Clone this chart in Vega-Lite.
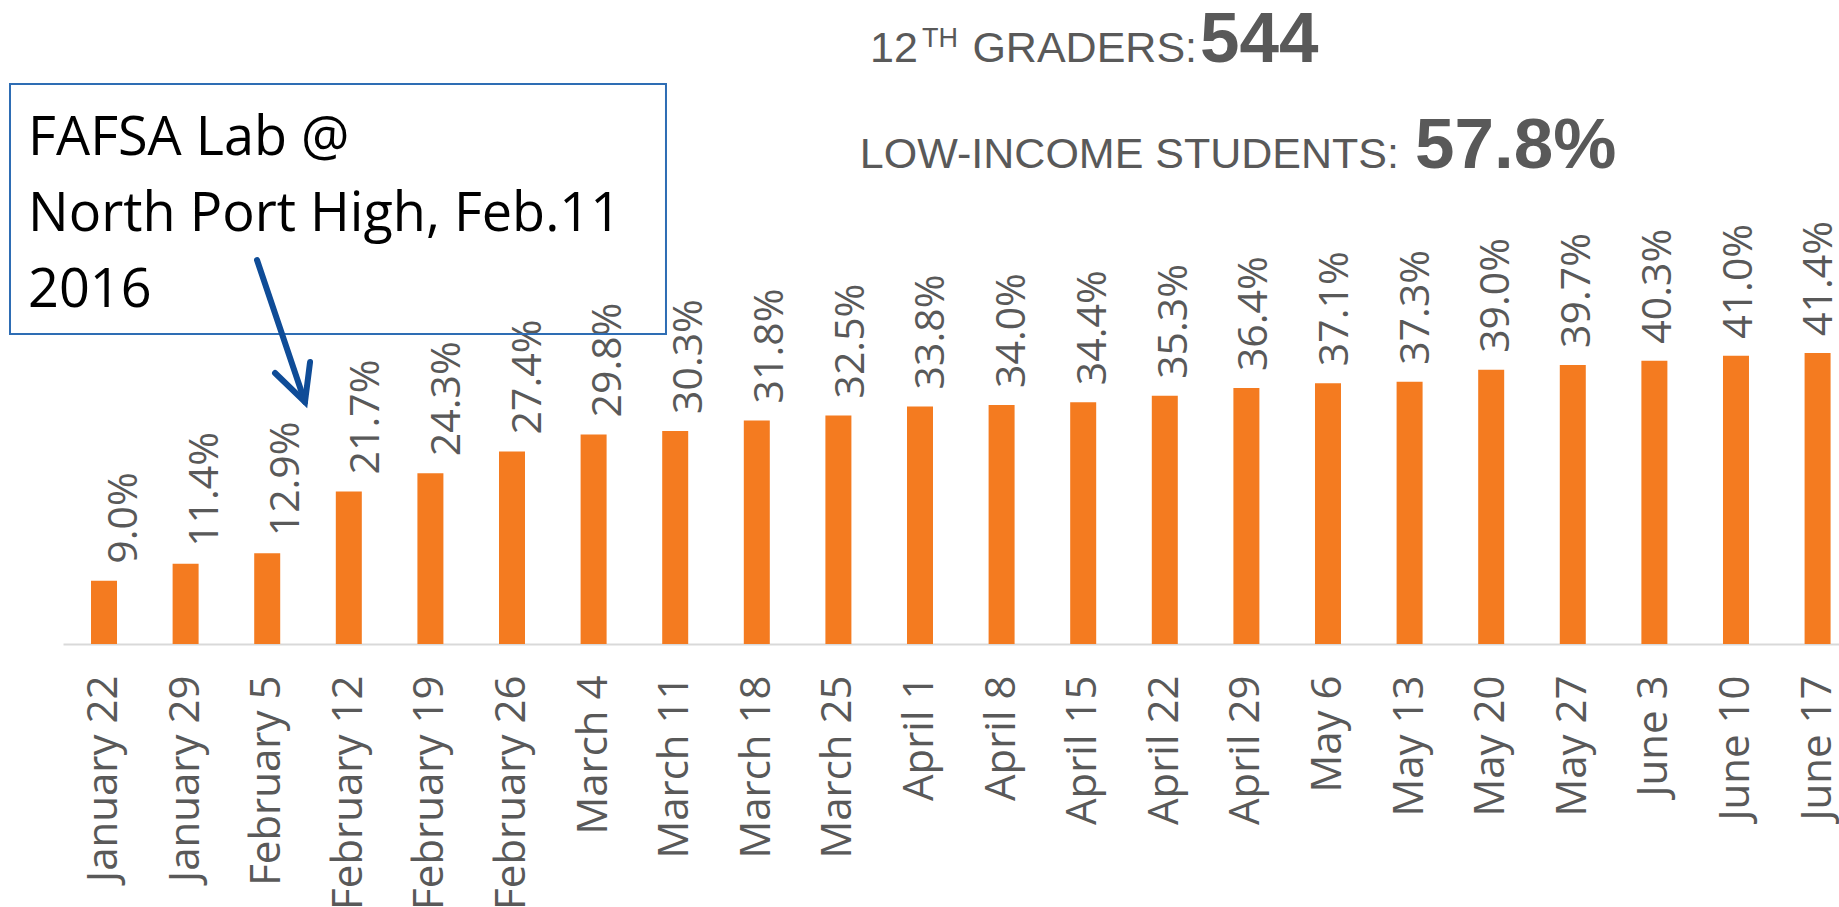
{
  "$schema": "https://vega.github.io/schema/vega-lite/v6.json",
  "width": 1776,
  "height": 351.5,
  "autosize": {"type": "none"},
  "padding": {"left": 63, "top": 292.5, "right": 0, "bottom": 263},
  "background": "white",
  "config": {"view": {"stroke": null}, "font": "Open Sans"},
  "datasets": {
    "bars": [
      {"week": "January 22", "share": 0.090},
      {"week": "January 29", "share": 0.114},
      {"week": "February 5", "share": 0.129},
      {"week": "February 12", "share": 0.217},
      {"week": "February 19", "share": 0.243},
      {"week": "February 26", "share": 0.274},
      {"week": "March 4", "share": 0.298},
      {"week": "March 11", "share": 0.303},
      {"week": "March 18", "share": 0.318},
      {"week": "March 25", "share": 0.325},
      {"week": "April 1", "share": 0.338},
      {"week": "April 8", "share": 0.340},
      {"week": "April 15", "share": 0.344},
      {"week": "April 22", "share": 0.353},
      {"week": "April 29", "share": 0.364},
      {"week": "May 6", "share": 0.371},
      {"week": "May 13", "share": 0.373},
      {"week": "May 20", "share": 0.390},
      {"week": "May 27", "share": 0.397},
      {"week": "June 3", "share": 0.403},
      {"week": "June 10", "share": 0.410},
      {"week": "June 17", "share": 0.414}
    ],
    "frame": [{"x1": -1.152, "x2": 6.887, "y1": 0.7966, "y2": 0.4410}],
    "note": [
      {"line": "FAFSA Lab @", "x": -0.93, "y": 0.6956},
      {"line": "North Port High, Feb.11", "x": -0.93, "y": 0.5875},
      {"line": "2016", "x": -0.93, "y": 0.4794}
    ],
    "arrow": [
      {"part": "shaft", "k": 1, "x": 1.875, "y": 0.5462},
      {"part": "shaft", "k": 2, "x": 2.463, "y": 0.3442},
      {"part": "head", "k": 1, "x": 2.096, "y": 0.3855},
      {"part": "head", "k": 2, "x": 2.463, "y": 0.3442},
      {"part": "head", "k": 3, "x": 2.525, "y": 0.4011}
    ],
    "statPre": [{"t": "12", "x": 9.387, "y": 0.8279}],
    "statSup": [{"t": "TH", "x": 10.025, "y": 0.8492}],
    "statLabel": [
      {"t": "GRADERS:", "x": 13.395, "y": 0.8279},
      {"t": "LOW-INCOME STUDENTS:", "x": 15.870, "y": 0.6771}
    ],
    "statNum": [
      {"t": "544", "x": 13.431, "y": 0.8279},
      {"t": "57.8%", "x": 16.066, "y": 0.6771}
    ]
  },
  "layer": [
    {
      "data": {"name": "bars"},
      "mark": {"type": "bar", "color": "#F47B20"},
      "encoding": {
        "x": {
          "field": "week", "type": "nominal", "sort": null,
          "scale": {"paddingInner": 0.6814, "paddingOuter": 0.2232, "align": 0.769},
          "axis": {
            "title": null, "ticks": false, "grid": false,
            "labelAngle": 270, "labelAlign": "right", "labelBaseline": "middle",
            "labelPadding": 31, "labelFontSize": 42, "labelColor": "#595959",
            "labelFont": "Open Sans", "labelLimit": 600, "labelOverlap": false, "labelBound": false,
            "domainColor": "#D9D9D9", "domainWidth": 2
          }
        },
        "y": {"field": "share", "type": "quantitative", "scale": {"domain": [0, 0.5], "nice": false}, "axis": null}
      }
    },
    {
      "data": {"name": "bars"},
      "mark": {"type": "text", "angle": 270, "align": "left", "baseline": "middle", "dx": 17, "fontSize": 41, "color": "#595959", "font": "Open Sans"},
      "encoding": {
        "x": {"field": "week", "type": "nominal", "sort": null, "scale": {"paddingInner": 0.6814, "paddingOuter": 0.2232, "align": 0.769}, "axis": null},
        "y": {"field": "share", "type": "quantitative", "scale": {"domain": [0, 0.5], "nice": false}, "axis": null},
        "text": {"field": "share", "type": "quantitative", "format": ".1%"}
      }
    },
    {
      "data": {"name": "frame"},
      "mark": {"type": "rect", "fill": null, "fillOpacity": 0, "stroke": "#2E6DB4", "strokeWidth": 2},
      "encoding": {
        "x": {"field": "x1", "type": "quantitative", "scale": {"domain": [-0.5025, 21.2623], "nice": false, "zero": false}, "axis": null},
        "x2": {"field": "x2"},
        "y": {"field": "y1", "type": "quantitative", "scale": {"domain": [0, 0.5], "nice": false}, "axis": null},
        "y2": {"field": "y2"}
      }
    },
    {
      "data": {"name": "note"},
      "mark": {"type": "text", "align": "left", "baseline": "alphabetic", "fontSize": 54, "color": "#000000", "font": "Open Sans"},
      "encoding": {
        "x": {"field": "x", "type": "quantitative", "scale": {"domain": [-0.5025, 21.2623], "nice": false, "zero": false}, "axis": null},
        "y": {"field": "y", "type": "quantitative", "scale": {"domain": [0, 0.5], "nice": false}, "axis": null},
        "text": {"field": "line"}
      }
    },
    {
      "data": {"name": "arrow"},
      "mark": {"type": "line", "color": "#0F4C97", "strokeWidth": 6, "strokeCap": "round", "strokeJoin": "miter"},
      "encoding": {
        "x": {"field": "x", "type": "quantitative", "scale": {"domain": [-0.5025, 21.2623], "nice": false, "zero": false}, "axis": null},
        "y": {"field": "y", "type": "quantitative", "scale": {"domain": [0, 0.5], "nice": false}, "axis": null},
        "detail": {"field": "part"},
        "order": {"field": "k"}
      }
    },
    {
      "data": {"name": "statPre"},
      "mark": {"type": "text", "align": "left", "baseline": "alphabetic", "fontSize": 43, "color": "#595959", "font": "Liberation Sans"},
      "encoding": {
        "x": {"field": "x", "type": "quantitative", "scale": {"domain": [-0.5025, 21.2623], "nice": false, "zero": false}, "axis": null},
        "y": {"field": "y", "type": "quantitative", "scale": {"domain": [0, 0.5], "nice": false}, "axis": null},
        "text": {"field": "t"}
      }
    },
    {
      "data": {"name": "statSup"},
      "mark": {"type": "text", "align": "left", "baseline": "alphabetic", "fontSize": 27, "color": "#595959", "font": "Liberation Sans"},
      "encoding": {
        "x": {"field": "x", "type": "quantitative", "scale": {"domain": [-0.5025, 21.2623], "nice": false, "zero": false}, "axis": null},
        "y": {"field": "y", "type": "quantitative", "scale": {"domain": [0, 0.5], "nice": false}, "axis": null},
        "text": {"field": "t"}
      }
    },
    {
      "data": {"name": "statLabel"},
      "mark": {"type": "text", "align": "right", "baseline": "alphabetic", "fontSize": 43, "color": "#595959", "font": "Liberation Sans"},
      "encoding": {
        "x": {"field": "x", "type": "quantitative", "scale": {"domain": [-0.5025, 21.2623], "nice": false, "zero": false}, "axis": null},
        "y": {"field": "y", "type": "quantitative", "scale": {"domain": [0, 0.5], "nice": false}, "axis": null},
        "text": {"field": "t"}
      }
    },
    {
      "data": {"name": "statNum"},
      "mark": {"type": "text", "align": "left", "baseline": "alphabetic", "fontSize": 71, "fontWeight": "bold", "color": "#595959", "font": "Liberation Sans"},
      "encoding": {
        "x": {"field": "x", "type": "quantitative", "scale": {"domain": [-0.5025, 21.2623], "nice": false, "zero": false}, "axis": null},
        "y": {"field": "y", "type": "quantitative", "scale": {"domain": [0, 0.5], "nice": false}, "axis": null},
        "text": {"field": "t"}
      }
    }
  ],
  "resolve": {"scale": {"x": "independent"}}
}
